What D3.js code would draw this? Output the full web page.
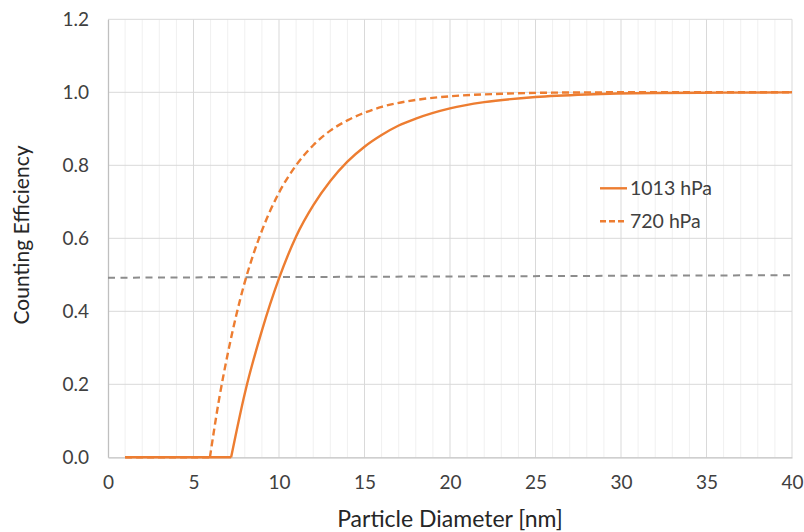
<!DOCTYPE html>
<html>
<head>
<meta charset="utf-8">
<script src="https://cdn.jsdelivr.net/npm/d3@7"></script>
<style>
  body { margin: 0; background: #fff; }
  svg text { font-family: Lato, "Open Sans", sans-serif; }
</style>
</head>
<body>
<div id="chart"></div>
<script>
// curve readings (diameter in nm, counting efficiency)
var d1013 = [1, 7.2, 8, 9, 10, 11, 12, 13, 14, 15, 16, 17, 18, 20, 22, 25, 28, 32, 36, 40];
var e1013 = [0, 0, 0.175, 0.347, 0.49, 0.605, 0.69, 0.757, 0.81, 0.851, 0.883, 0.909, 0.928, 0.956, 0.973, 0.987, 0.994, 0.998, 0.999, 1.0];

var d720 = [1, 5.96, 6.5, 7, 7.5, 8, 8.5, 9, 10, 11, 12, 13, 14, 15, 16, 18, 20, 23, 26, 30, 40];
var e720 = [0, 0, 0.16, 0.283, 0.389, 0.48, 0.556, 0.621, 0.725, 0.80, 0.855, 0.895, 0.923, 0.944, 0.96, 0.979, 0.989, 0.996, 0.999, 1.0, 1.0];

// grey dashed reference line
var refX = [0, 40];
var refY = [0.492, 0.499];

var xTicks = [0, 5, 10, 15, 20, 25, 30, 35, 40];
var yTicks = [0, 0.2, 0.4, 0.6, 0.8, 1.0, 1.2];
var seriesNames = ["1013 hPa", "720 hPa"];

var width = 804, height = 532;
var margin = {top: 19.3, right: 12, bottom: 74.7, left: 108};

var svg = d3.select("#chart")
  .append("svg")
    .attr("width", width)
    .attr("height", height);

var x = d3.scaleLinear()
  .domain([0, 40])
  .range([margin.left, width - margin.right]);

var y = d3.scaleLinear()
  .domain([0, 1.2])
  .range([height - margin.bottom, margin.top]);

// minor vertical grid every 1 nm
svg.append("g")
  .selectAll("line")
  .data(d3.range(1, 40).filter(function(d){ return d % 5 != 0 }))
  .enter()
  .append("line")
  .attr("x1", function(d){ return x(d) })
  .attr("x2", function(d){ return x(d) })
  .attr("y1", y(0))
  .attr("y2", y(1.2))
  .style("stroke", "#f0f0f0")
  .style("stroke-width", 1);

// major vertical grid
svg.append("g")
  .selectAll("line")
  .data(xTicks.slice(1))
  .enter()
  .append("line")
  .attr("x1", function(d){ return x(d) })
  .attr("x2", function(d){ return x(d) })
  .attr("y1", y(0))
  .attr("y2", y(1.2))
  .style("stroke", "#d9d9d9")
  .style("stroke-width", 1);

// horizontal grid
svg.append("g")
  .selectAll("line")
  .data(yTicks.slice(1))
  .enter()
  .append("line")
  .attr("x1", x(0))
  .attr("x2", x(40))
  .attr("y1", function(d){ return y(d) })
  .attr("y2", function(d){ return y(d) })
  .style("stroke", "#d9d9d9")
  .style("stroke-width", 1);

// axes
var xAxis = svg.append("g")
  .attr("transform", "translate(0," + y(0) + ")")
  .call(d3.axisBottom(x).tickValues(xTicks).tickSize(0).tickPadding(18)
    .tickFormat(d3.format("d")));

var yAxis = svg.append("g")
  .attr("transform", "translate(" + x(0) + ",0)")
  .call(d3.axisLeft(y).tickValues(yTicks).tickSize(0).tickPadding(19)
    .tickFormat(d3.format(".1f")));

[xAxis, yAxis].forEach(function(a){
  a.select(".domain").style("stroke", "#bfbfbf").style("stroke-width", 1.3);
  a.selectAll("text").style("font-size", "19px").style("fill", "#404040")
    .style("font-family", "Lato, 'Open Sans', sans-serif");
});

// reference line
svg.append("path")
  .datum(d3.zip(refX, refY))
  .attr("d", d3.line().x(function(d){ return x(d[0]) }).y(function(d){ return y(d[1]) }))
  .style("fill", "none")
  .style("stroke", "#8c8c8c")
  .style("stroke-width", 2)
  .style("stroke-dasharray", "7,5.5");

// flat part is straight, rising part smoothed
var line = d3.line()
  .x(function(d){ return x(d[0]) })
  .y(function(d){ return y(d[1]) });
var smooth = d3.line()
  .x(function(d){ return x(d[0]) })
  .y(function(d){ return y(d[1]) })
  .curve(d3.curveMonotoneX);

function seriesPath(xs, ys) {
  var pts = d3.zip(xs, ys);
  return line(pts.slice(0, 2)) + smooth(pts.slice(1));
}

svg.append("path")
  .attr("d", seriesPath(d720, e720))
  .style("fill", "none")
  .style("stroke", "#ed7d31")
  .style("stroke-width", 2.4)
  .style("stroke-dasharray", "7,4");

svg.append("path")
  .attr("d", seriesPath(d1013, e1013))
  .style("fill", "none")
  .style("stroke", "#ed7d31")
  .style("stroke-width", 2.4);

// legend
var legend = svg.append("g");
legend.selectAll("line")
  .data(seriesNames)
  .enter()
  .append("line")
  .attr("x1", 600)
  .attr("x2", 627)
  .attr("y1", function(d, i){ return 188.3 + i * 33 })
  .attr("y2", function(d, i){ return 188.3 + i * 33 })
  .style("stroke", "#ed7d31")
  .style("stroke-width", 2.4)
  .style("stroke-dasharray", function(d, i){ return i == 1 ? "6,3" : null });

legend.selectAll("text")
  .data(seriesNames)
  .enter()
  .append("text")
  .attr("x", 630)
  .attr("y", function(d, i){ return 188.3 + i * 33 })
  .attr("dy", "0.35em")
  .text(function(d){ return d })
  .style("font-size", "19.5px")
  .style("fill", "#404040");

// axis titles
svg.append("text")
  .attr("x", x(20))
  .attr("y", 527)
  .attr("text-anchor", "middle")
  .text("Particle Diameter [nm]")
  .style("font-size", "23px")
  .style("fill", "#262626");

svg.append("text")
  .attr("transform", "translate(29," + 235 + ") rotate(-90)")
  .attr("text-anchor", "middle")
  .text("Counting Efficiency")
  .style("font-size", "21px")
  .style("fill", "#262626");
</script>
</body>
</html>
